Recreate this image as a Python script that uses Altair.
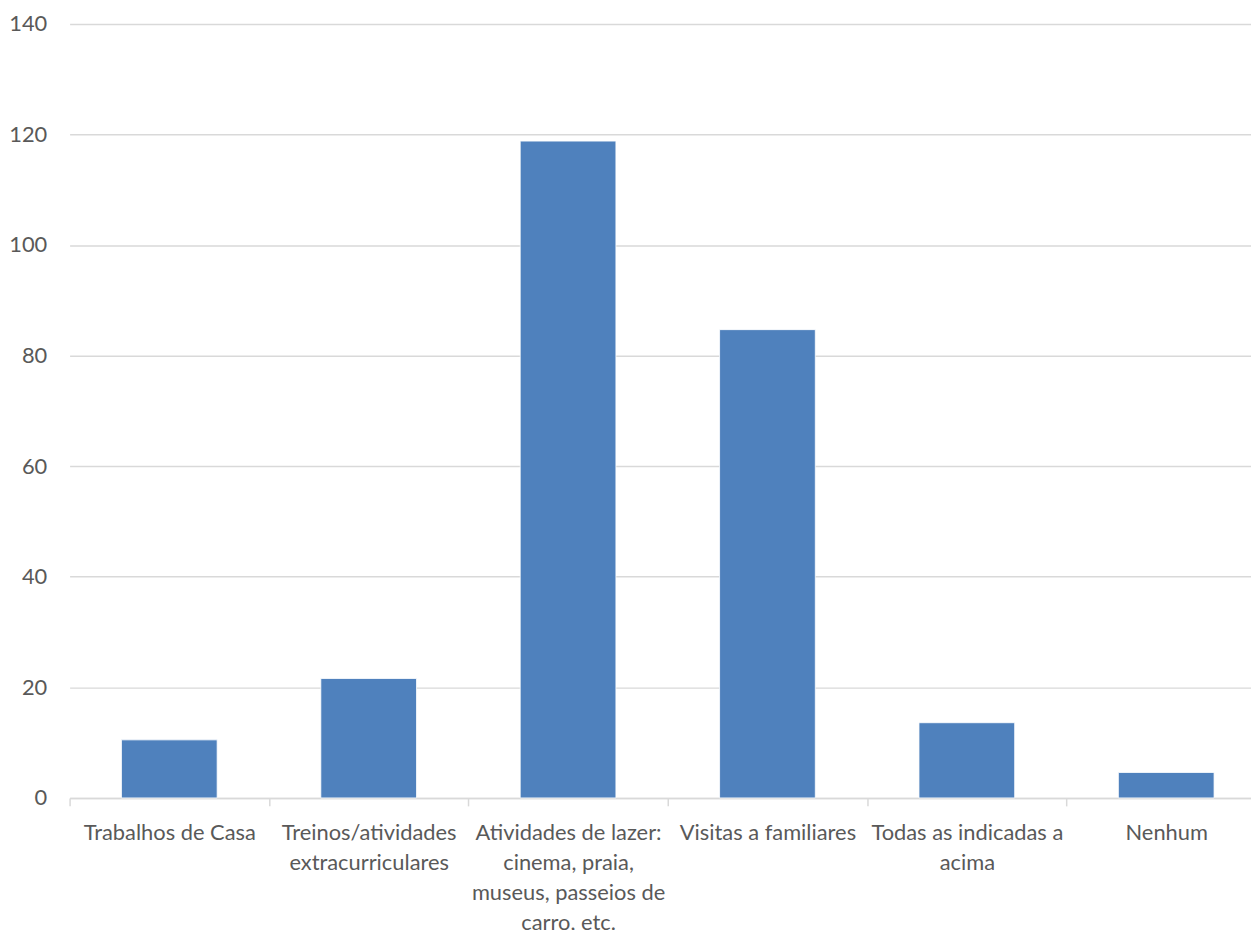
import altair as alt
import pandas as pd

categories = [
    "Trabalhos de Casa",
    "Treinos/atividades|extracurriculares",
    "Atividades de lazer:|cinema, praia,|museus, passeios de|carro, etc.",
    "Visitas a familiares",
    "Todas as indicadas a|acima",
    "Nenhum",
]
values = [10.5, 21.6, 118.8, 84.7, 13.6, 4.6]
y_ticks = [0, 20, 40, 60, 80, 100, 120, 140]

df = pd.DataFrame({"categoria": categories, "valor": values})

text_color = "#595959"
grid_color = "#D9D9D9"
font = "Lato"

chart = (
    alt.Chart(df)
    .mark_bar(
        color="#4F81BD",
        stroke="#FFFFFF",
        strokeWidth=0.8,
        width=alt.RelativeBandSize(band=0.48),
    )
    .encode(
        x=alt.X(
            "categoria:N",
            sort=None,
            scale=alt.Scale(range=[0, 1204], paddingInner=0, paddingOuter=0),
            axis=alt.Axis(
                title=None,
                labelAngle=0,
                labelExpr="datum.value == null ? '' : split(datum.value, '|')",
                labelAlign="center",
                labelBaseline="top",
                labelFont=font,
                labelFontSize=22,
                labelColor=text_color,
                labelLineHeight=30,
                labelPadding=17,
                labelLimit=300,
                labelOverlap=False,
                tickBand="extent",
                tickColor=grid_color,
                tickSize=8,
                tickWidth=1.5,
                domainColor=grid_color,
                domainWidth=1.5,
            ),
        ),
        y=alt.Y(
            "valor:Q",
            scale=alt.Scale(domain=[0, 140], nice=False),
            axis=alt.Axis(
                title=None,
                values=y_ticks,
                grid=True,
                gridColor=grid_color,
                gridWidth=1.5,
                domain=False,
                ticks=False,
                labelFont=font,
                labelFontSize=22,
                labelColor=text_color,
                labelPadding=23,
            ),
        ),
    )
    .properties(
        width=1189,
        height=779,
        autosize=alt.AutoSizeParams(type="none"),
        padding={"left": 62, "top": 13, "right": 0, "bottom": 140},
    )
    .configure_view(stroke=None)
)

chart.save("out.html", embed_options={"renderer": "svg", "actions": False})
